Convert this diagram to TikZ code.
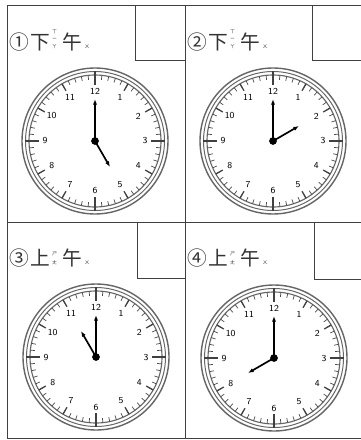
\documentclass[tikz,border=0pt]{standalone}
\usepackage{fontspec}
\newfontfamily\cjk{Noto Sans CJK TC}
\usetikzlibrary{arrows.meta}
\newcommand\zy[2]{#1\hspace{1.5pt}\raisebox{1pt}{\fontsize{3.5}{4.4}\selectfont\shortstack{#2}}}

\begin{document}
\begin{tikzpicture}[x=0.025cm,y=-0.025cm,
    frame/.style={draw=black!75,line width=0.6pt},
    ring/.style={draw=black!60},
    hand/.style={line width=1pt,-{Latex[length=4pt,width=3pt]}},
    num/.style={font=\sffamily\fontsize{6.5}{7}\selectfont,inner sep=0pt},
    title/.style={anchor=west,inner sep=0pt,text=black!80,font=\cjk\fontsize{14}{14}\selectfont}]
    \useasboundingbox (0,0) rectangle (361,440);
    \fill[white] (0,0) rectangle (361,440);
    \draw[frame] (361,5) -- (7,5) -- (7,438) -- (361,438)
        (185,5) -- (185,438) (7,222) -- (361,222);
    \draw[frame] (135,5) |- (185,60) (312,5) |- (361,60)
        (137,222) |- (185,278) (314,222) |- (361,279);

    \node[title] (t1) at (9,41) {①\hspace{1pt}\zy{下}{ㄒ\\ㄧ\\ㄚ}\hspace{4pt}\zy{午}{ㄨ}};
    \node[title] (t2) at (187,41) {②\hspace{1pt}\zy{下}{ㄒ\\ㄧ\\ㄚ}\hspace{4pt}\zy{午}{ㄨ}};
    \node[title] (t3) at (9,258) {③\hspace{1pt}\zy{上}{ㄕ\\ㄤ}\hspace{4pt}\zy{午}{ㄨ}};
    \node[title] (t4) at (187,258) {④\hspace{1pt}\zy{上}{ㄕ\\ㄤ}\hspace{4pt}\zy{午}{ㄨ}};

    \foreach \i/\cx/\cy/\h in {1/95/141/60, 2/273/141/-30, 3/96/357/240, 4/274/358/150}{
        \begin{scope}[shift={(\cx,\cy)}]
            \draw[ring,line width=1pt] (0,0) circle (73);
            \draw[ring,line width=0.7pt] (0,0) circle (69.5);
            \draw[ring,line width=0.8pt] (0,0) circle (66);
            \foreach \a in {0,6,...,354}
                \draw[black!70,line width=0.5pt] (\a:66) -- (\a:61.5);
            \foreach \a in {0,30,...,330}
                \draw[black!75,line width=0.9pt] (\a:66) -- (\a:58);
            \foreach \a in {0,90,180,270}
                \draw[black!75,line width=0.9pt] (\a:70) -- (\a:56);
            \foreach \n in {1,...,12}
                \node[num] (n\i-\n) at (30*\n-90:50) {\n};
            \node[circle,fill,inner sep=0pt,minimum size=5.5pt] (c\i) at (0,0) {};
            \coordinate (m\i) at (-90:42);
            \coordinate (h\i) at (\h:30);
            \draw[hand] (c\i.center) -- (m\i);
            \draw[hand,line width=1.2pt] (c\i.center) -- (h\i);
        \end{scope}
    }
\end{tikzpicture}
\end{document}
